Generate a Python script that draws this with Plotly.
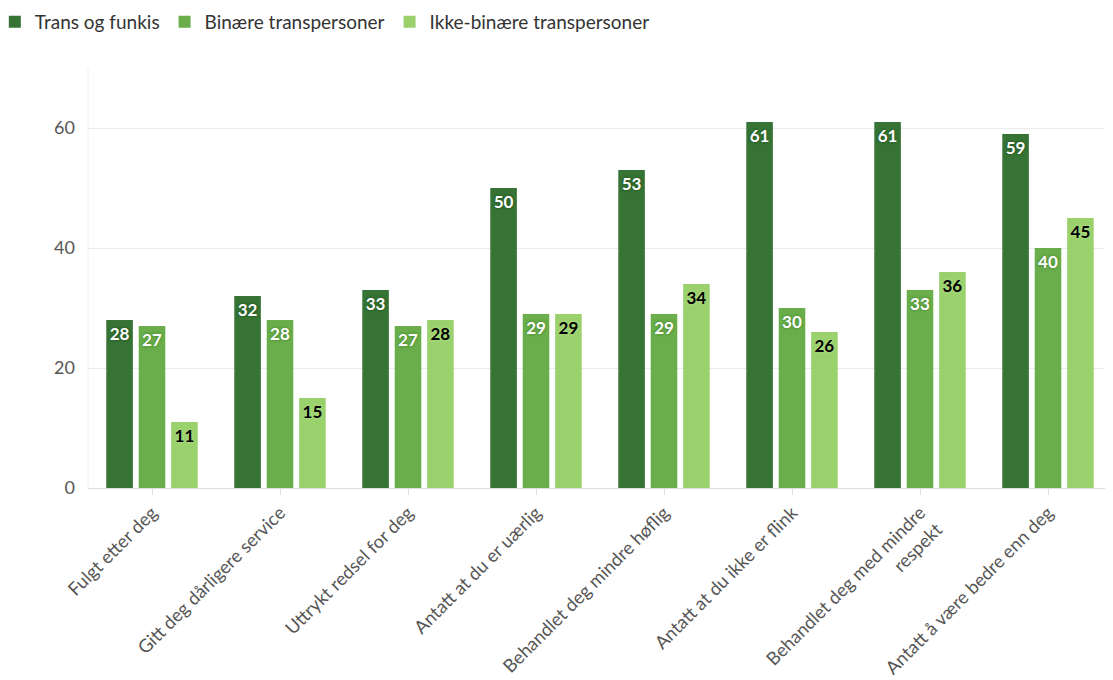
import plotly.graph_objects as go

categories = [
    "Fulgt etter deg",
    "Gitt deg dårligere service",
    "Uttrykt redsel for deg",
    "Antatt at du er uærlig",
    "Behandlet deg mindre høflig",
    "Antatt at du ikke er flink",
    "Behandlet deg med mindre<br>respekt",
    "Antatt å være bedre enn deg",
]
trans_og_funkis = [28, 32, 33, 50, 53, 61, 61, 59]
binaere = [27, 28, 27, 29, 29, 30, 33, 40]
ikke_binaere = [11, 15, 28, 29, 34, 26, 36, 45]

series = [
    ("Trans og funkis", trans_og_funkis, "#367334", "white", "0px 0px 3px #1d4a1b"),
    ("Binære transpersoner", binaere, "#69ae4a", "white", "0px 0px 3px #3f7a2a"),
    ("Ikke-binære transpersoner", ikke_binaere, "#9bd16d", "black", "0px 0px 3px #b8e28f"),
]

FONT = "Lato, 'Open Sans', sans-serif"

fig = go.Figure()
for name, vals, color, tcolor, shadow in series:
    fig.add_trace(go.Bar(
        name=name, x=categories, y=vals,
        marker=dict(color=color, line=dict(width=0)),
        text=[str(v) for v in vals],
        textposition="inside", insidetextanchor="end",
        textangle=0,
        textfont=dict(family=FONT, size=17, color=tcolor,
                      weight="bold", shadow=shadow),
        constraintext="none",
        hoverinfo="x+y+name",
    ))

fig.update_layout(
    width=1105, height=672,
    barmode="group", bargap=0.24, bargroupgap=0.18,
    plot_bgcolor="white", paper_bgcolor="white",
    margin=dict(l=80, r=1, t=60, b=192, autoexpand=False),
    font=dict(family=FONT, size=18, color="#555"),
    uniformtext=dict(minsize=17, mode="show"),
    legend=dict(orientation="h", x=-0.091, xanchor="left", xref="paper",
                y=1.1095, yanchor="middle", yref="paper",
                font=dict(size=19, color="#333"), itemwidth=30, traceorder="normal"),
    showlegend=True,
)
fig.update_yaxes(range=[0, 70], tickvals=[0, 20, 40, 60], gridcolor="#ebebeb",
                 zeroline=False, showline=False, ticks="", ticklabelstandoff=12,
                 automargin=False, tickfont=dict(size=18, color="#555"))
fig.update_xaxes(tickangle=-45, showline=True, linecolor="#dddddd", ticks="outside",
                 ticklen=6, tickcolor="#dddddd", automargin=False,
                 tickfont=dict(size=18.3, color="#555"))

fig.add_shape(type="line", xref="paper", yref="paper", x0=0, x1=0, y0=0, y1=1,
              line=dict(color="#eeeeee", width=1))

fig.write_html("out.html")
